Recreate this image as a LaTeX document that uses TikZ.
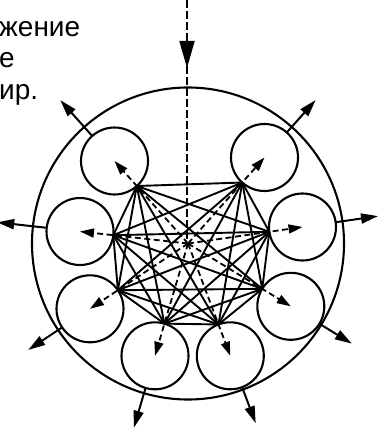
\documentclass[tikz,border=0pt]{standalone}
\usepackage{fontspec}
\setmainfont{Liberation Sans}
\usetikzlibrary{calc,arrows.meta}
\begin{document}
\begin{tikzpicture}[x=1pt,y=-1pt,
  ln/.style={line width=1.9pt},
  small/.style={circle,draw,line width=2.1pt,minimum size=67pt,inner sep=0pt,outer sep=0pt},
  outarrow/.style={line width=2pt,-{Triangle[length=17pt,width=10pt]}},
  inarrow/.style={line width=1.8pt,dash pattern=on 6pt off 3.5pt,-{Triangle[length=14pt,width=9pt]}},
  lbl/.style={anchor=base west,inner sep=0pt,font=\fontsize{28}{31.5}\selectfont}]
\useasboundingbox (0,0) rectangle (380,430);
\coordinate (O) at (188,243.5);
\coordinate (top) at (187,0);
\node[circle,draw,line width=2.1pt,minimum size=312pt,inner sep=0pt] (big) at (188,243.5) {};
% small circles
\node[small] (c1) at (264.5,157.5) {};
\node[small] (c2) at (114.5,161) {};
\node[small] (c3) at (80,231.5) {};
\node[small] (c4) at (90,308.8) {};
\node[small] (c5) at (155,355.8) {};
\node[small] (c6) at (230.3,355.8) {};
\node[small] (c7) at (290.8,306.3) {};
\node[small] (c8) at (302.5,227) {};
% vertices, outer arrow ends
\foreach \i in {1,...,8} {
  \coordinate (v\i) at ($(c\i.center)!33.5pt!(O)$);
  \coordinate (s\i) at ($(c\i.center)!-33.5pt!(O)$);
  \coordinate (e\i) at ($(O)!192pt!(c\i.center)$);
}
% complete graph
\foreach \i in {1,...,7} {
  \pgfmathtruncatemacro\nxt{\i+1}
  \foreach \j in {\nxt,...,8} {
    \draw[ln] (v\i) -- (v\j);
  }
}
% dashed inner arrows and outer arrows
\foreach \i in {1,...,8} {
  \draw[inarrow] (O) -- (c\i.center);
  \draw[outarrow] (s\i) -- (e\i);
}
% vertical dashed line with arrow
\coordinate (ah) at (187,68);
\draw[line width=1.8pt,dash pattern=on 8pt off 3pt] (top) -- (187,243.5);
\draw[line width=1.8pt,-{Triangle[length=27pt,width=15pt]}] (187,38) -- (ah);
% text
\node[lbl] (t1) at (-1,37) {жение};
\node[lbl] (t2) at (-1,68) {е};
\node[lbl] (t3) at (-1,100) {ир.};
\end{tikzpicture}
\end{document}
